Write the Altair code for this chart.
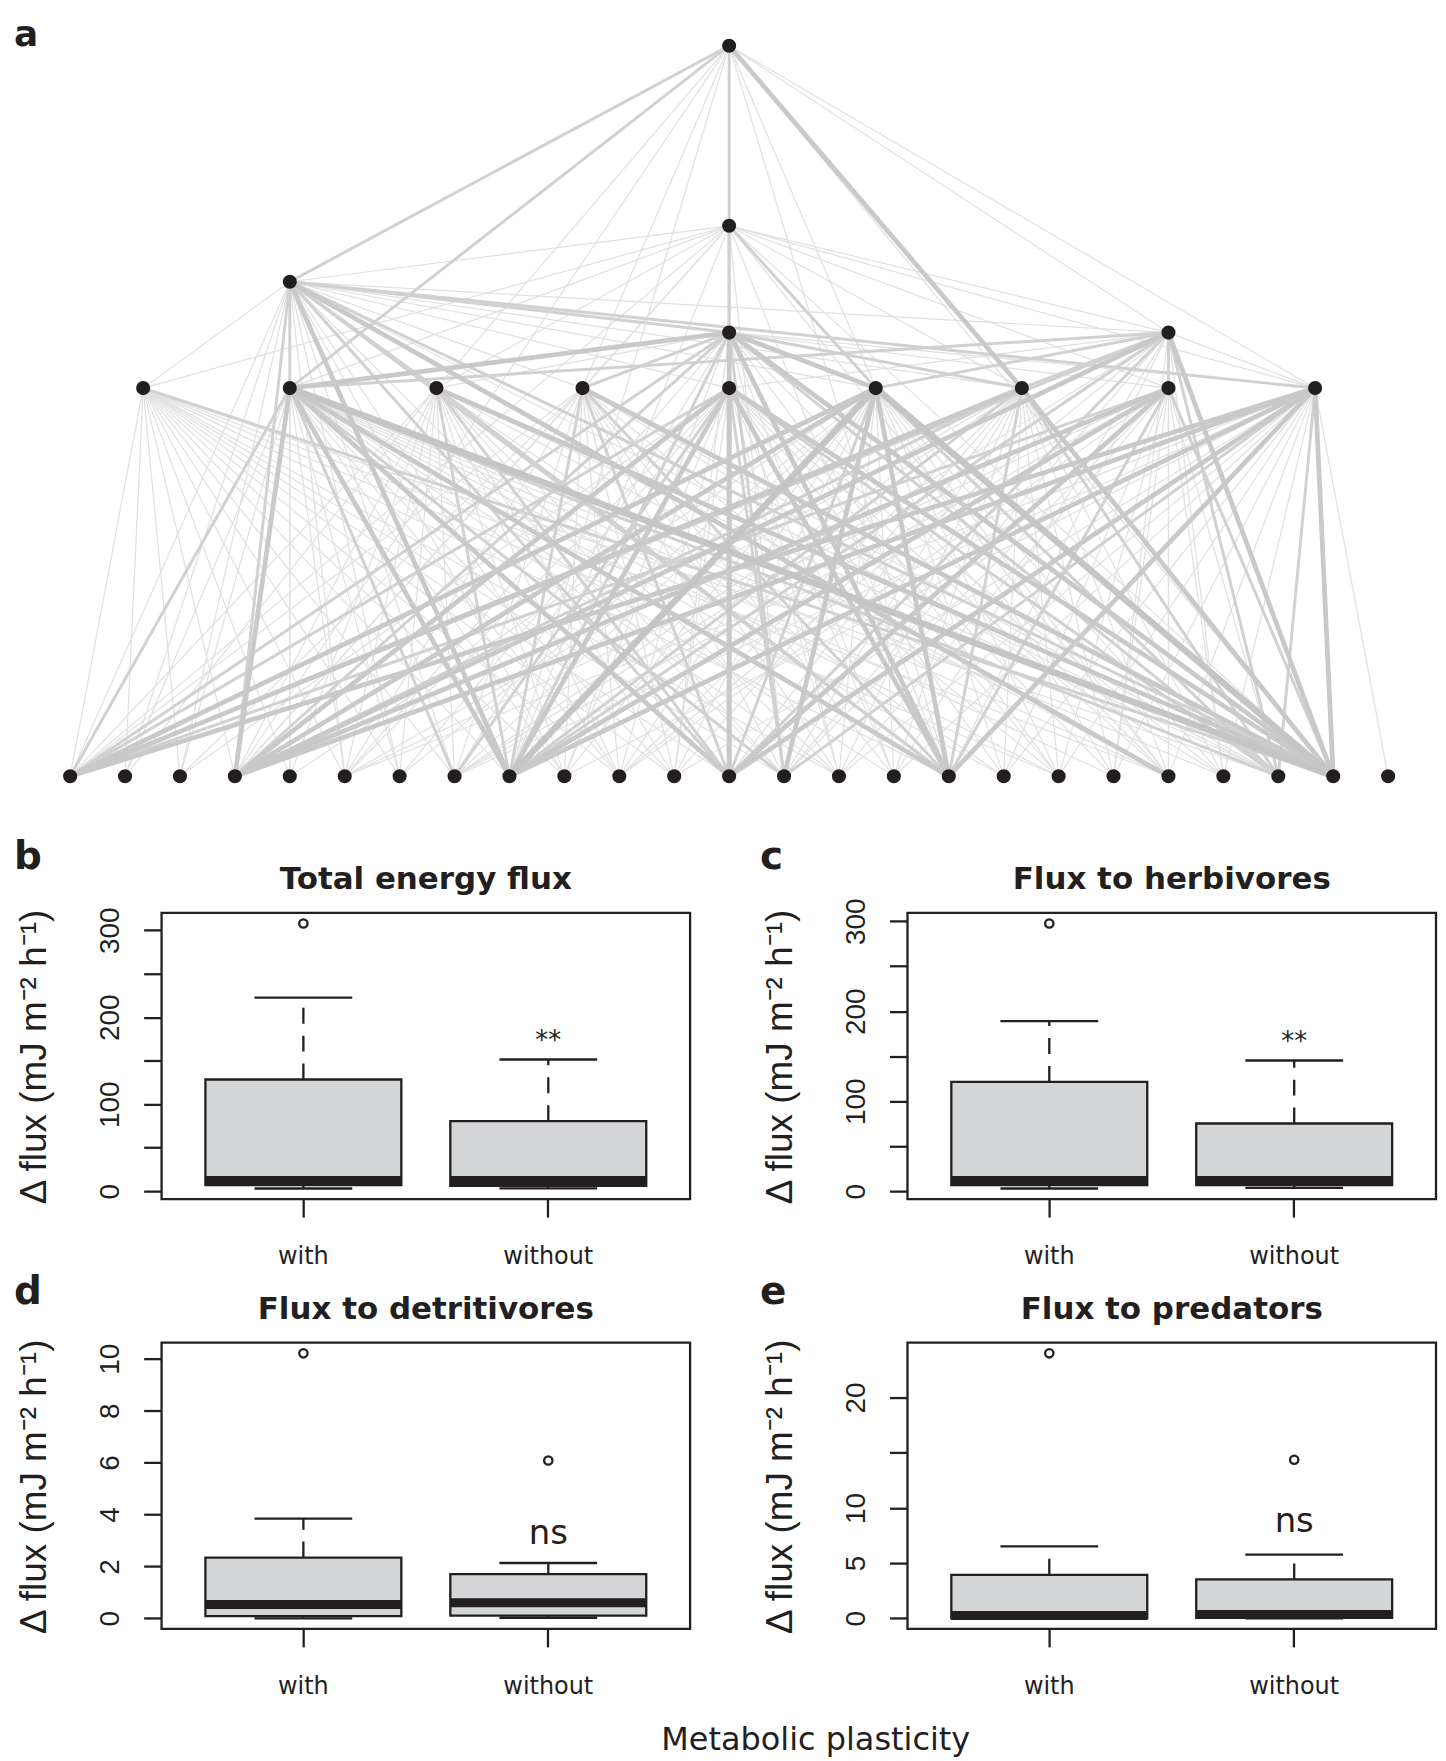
import json
import altair as alt
import pandas as pd

INK = "#231f20"

# ---------------- panel a: food web ----------------
basal_ids = ["B0", "B1", "B2", "B3", "B4", "B5", "B6", "B7", "B8", "B9", "B10", "B11", "B12",
             "B13", "B14", "B15", "B16", "B17", "B18", "B19", "B20", "B21", "B22", "B23", "B24"]
basal_pos = [0, 1, 2, 3, 4, 5, 6, 7, 8, 9, 10, 11, 12, 13, 14, 15, 16, 17, 18, 19, 20, 21, 22, 23, 24]
basal_level = [1.0] * 25

mid_ids = ["R0", "R1", "R2", "R3", "R4", "R5", "R6", "R7", "R8"]
mid_pos = [1.33, 4.0, 6.67, 9.33, 12.0, 14.67, 17.33, 20.0, 22.67]
mid_level = [2.0, 2.0, 2.0, 2.0, 2.0, 2.0, 2.0, 2.0, 2.0]

top_ids = ["M", "Rt", "L", "S", "T"]
top_pos = [12.0, 20.0, 4.0, 12.0, 12.0]
top_level = [2.143, 2.143, 2.274, 2.418, 2.882]

# consumer -> "resource:strength" (strength class 1 = weak ... 4 = strong)
links = {
    "T":  "S:2 L:2 R6:3 R8:1 Rt:1 R1:2 R2:1 R3:1 R4:1 R5:1 B12:1 B3:1 B8:1 B16:1 B23:1",
    "S":  "M:2 L:1 R0:1 R1:1 R2:1 R3:1 R4:2 R5:2 R6:1 R7:1 Rt:1 R8:1 B0:1 B3:1 B8:1 B12:1 "
          "B16:1 B23:1 B20:1 B13:1",
    "L":  "R1:2 M:2 Rt:1 R8:2 R0:1 R2:2 R3:1 R4:1 R5:1 R6:1 B0:1 B1:1 B2:1 B3:2 B4:1 B5:1 B6:1 "
          "B7:1 B8:3 B9:1 B10:1 B12:2 B13:1 B16:2 B20:3 B22:1 B23:2",
    "M":  "R1:3 R2:1 R3:2 R4:2 R5:3 R6:2 R7:1 R8:1 B0:2 B3:2 B5:1 B7:1 B8:2 B9:1 B11:1 B12:3 "
          "B13:2 B14:1 B15:1 B16:3 B18:1 B20:1 B22:2 B23:3",
    "Rt": "R1:2 R4:1 R5:2 R6:2 R7:2 R8:1 B0:2 B3:3 B7:1 B8:2 B10:1 B12:2 B13:1 B15:1 B16:1 "
          "B19:1 B20:1 B21:1 B22:2 B23:3",
    "R0": "B0:1 B1:1 B2:1 B3:1 B4:1 B5:1 B6:1 B7:1 B8:1 B9:1 B10:1 B11:1 B12:1 B13:1 B14:1 "
          "B16:1 B18:1 B20:1 B22:1 B23:2",
    "R1": "B0:2 B1:1 B2:1 B3:3 B4:1 B5:1 B6:1 B7:2 B8:3 B9:1 B10:1 B11:1 B12:3 B13:2 B14:1 "
          "B15:1 B16:3 B17:1 B18:1 B19:1 B20:1 B21:1 B22:2 B23:4",
    "R2": "B0:1 B1:1 B3:1 B4:1 B5:1 B6:1 B7:1 B8:2 B9:1 B10:1 B11:1 B12:2 B13:1 B14:1 B16:2 "
          "B17:1 B20:1 B22:1 B23:3",
    "R3": "B0:1 B2:1 B3:1 B5:1 B7:1 B8:2 B9:1 B10:1 B11:1 B12:2 B13:1 B14:1 B15:1 B16:2 "
          "B18:1 B21:1 B22:1 B23:3",
    "R4": "B0:2 B2:1 B3:3 B5:1 B6:1 B7:2 B8:3 B9:1 B10:1 B11:1 B12:3 B13:2 B14:1 B15:1 B16:3 "
          "B17:1 B18:1 B19:1 B20:1 B21:1 B22:2 B23:3",
    "R5": "B0:3 B3:3 B4:1 B6:1 B7:1 B8:4 B9:1 B10:1 B11:1 B12:2 B13:3 B14:1 B15:1 B16:3 B17:1 "
          "B18:1 B19:1 B20:1 B21:1 B22:2 B23:4",
    "R6": "B0:3 B3:2 B5:1 B7:1 B8:2 B10:1 B11:1 B12:1 B13:1 B14:1 B15:1 B16:2 B17:1 B18:1 "
          "B19:1 B20:1 B21:1 B22:2 B23:3",
    "R7": "B0:2 B3:3 B5:1 B7:1 B8:3 B10:1 B12:3 B13:1 B14:1 B16:2 B17:1 B18:1 B19:1 B20:1 "
          "B21:1 B22:1 B23:2",
    "R8": "B0:3 B3:3 B5:1 B7:1 B8:3 B9:1 B11:1 B12:3 B13:2 B14:1 B15:1 B16:3 B17:1 B18:1 "
          "B19:1 B20:1 B21:1 B22:2 B23:3 B24:1",
}

nodes = pd.DataFrame({
    "id": basal_ids + mid_ids + top_ids,
    "x": basal_pos + mid_pos + top_pos,
    "y": basal_level + mid_level + top_level,
})
pos = nodes.set_index("id")
rows = []
for cons, spec in links.items():
    for tok in spec.split():
        res, w = tok.split(":")
        rows.append({"x": pos.loc[cons, "x"], "y": pos.loc[cons, "y"],
                     "x2": pos.loc[res, "x"], "y2": pos.loc[res, "y"], "w": int(w)})
edges = pd.DataFrame(rows).sort_values("w", kind="stable").reset_index(drop=True)

# layout constants (pixels)
LEFT = 148    # room left of each panel's plot for letter / axis
PW = 530      # panel plot width
GAP = 66      # gap between panels
NET_W = PW + GAP + LEFT + PW

net_x = alt.Scale(domain=[1.6651, 24.799], nice=False, zero=False)
net_y = alt.Scale(domain=[0.9178, 2.9728], nice=False, zero=False)

edge_layer = alt.Chart(edges).mark_rule().encode(
    x=alt.X("x:Q", scale=net_x, axis=None),
    y=alt.Y("y:Q", scale=net_y, axis=None),
    x2="x2:Q",
    y2="y2:Q",
    color=alt.Color("w:O", scale=alt.Scale(domain=[1, 2, 3, 4],
                    range=["#e0e0e0", "#d1d1d2", "#c9c9ca", "#c4c5c6"]), legend=None),
    size=alt.Size("w:Q", scale=alt.Scale(domain=[1, 4], range=[1.2, 6.5]), legend=None),
)
node_layer = alt.Chart(nodes).mark_circle(size=200, color=INK, opacity=1).encode(
    x=alt.X("x:Q", scale=net_x, axis=None),
    y=alt.Y("y:Q", scale=net_y, axis=None),
)
a_label = alt.Chart(pd.DataFrame({"t": ["a"]})).mark_text(
    align="left", baseline="alphabetic", font="DejaVu Sans", fontSize=36,
    fontWeight="bold", color=INK
).encode(x=alt.value(-LEFT), y=alt.value(36), text="t:N")

network = alt.layer(edge_layer, node_layer, a_label).properties(
    width=NET_W, height=800, view=alt.ViewBackground(stroke="transparent", strokeWidth=0)
)

# ---------------- panels b-e: boxplots ----------------
groups = ["with", "without"]

b_lo, b_q1, b_med, b_q3, b_hi = [3.1, 3.3], [6.9, 6.2], [12.3, 12.3], [128.4, 80.5], [222.6, 151.4]
b_out_g, b_out_v = ["with"], [307.7]
b_ylim, b_ticks, b_labeled = [-9.1, 319.9], [0, 50, 100, 150, 200, 250, 300], [0, 100, 200, 300]

c_lo, c_q1, c_med, c_q3, c_hi = [3.0, 3.6], [6.7, 6.7], [11.9, 11.9], [121.5, 75.2], [188.9, 145.2]
c_out_g, c_out_v = ["with"], [297.4]
c_ylim, c_ticks, c_labeled = [-8.8, 309.2], [0, 50, 100, 150, 200, 250, 300], [0, 100, 200, 300]

d_lo, d_q1, d_med, d_q3, d_hi = [0.0, 0.02], [0.08, 0.1], [0.53, 0.6], [2.34, 1.70], [3.84, 2.13]
d_out_g, d_out_v = ["with", "without"], [10.21, 6.08]
d_ylim, d_ticks, d_labeled = [-0.41, 10.62], [0, 2, 4, 6, 8, 10], [0, 2, 4, 6, 8, 10]

e_lo, e_q1, e_med, e_q3, e_hi = [0.0, 0.0], [0.02, 0.05], [0.25, 0.35], [3.94, 3.52], [6.52, 5.76]
e_out_g, e_out_v = ["with", "without"], [24.0, 14.36]
e_ylim, e_ticks, e_labeled = [-0.96, 24.96], [0, 5, 10, 15, 20], [0, 5, 10, 20]

sig_text = ["**", "**", "ns", "ns"]
sig_y = [173, 166, 3.25, 8.7]

Y_TITLE = "\u0394 flux (mJ m\u207b\u00b2 h\u207b\u00b9)"


def panel(letter, title, lo, q1, med, q3, hi, out_g, out_v, sig, sy, ylim, ticks, labeled,
          letter_y, title_y):
    stats = pd.DataFrame({"group": groups, "lo": lo, "q1": q1, "med": med, "q3": q3, "hi": hi})
    outs = pd.DataFrame({"group": out_g, "v": out_v})
    sigdf = pd.DataFrame({"group": ["without"], "v": [sy], "t": [sig]})

    xsc = alt.Scale(domain=groups, paddingInner=0.2, paddingOuter=0.179)
    xax = alt.Axis(title=None, domain=False, tickSize=18, tickWidth=2.3, tickColor=INK,
                   labelAngle=0, labelFont="DejaVu Sans", labelFontSize=24, labelColor=INK,
                   labelPadding=28, labelBaseline="top")
    ysc = alt.Scale(domain=ylim, nice=False, zero=False)
    yax = alt.Axis(values=ticks, grid=False, domain=False, tickSize=18, tickWidth=2.3,
                   tickColor=INK,
                   labelExpr="indexof(%s, datum.value) >= 0 ? datum.label : ''" % json.dumps(labeled),
                   labelAngle=270, labelAlign="center", labelBaseline="middle",
                   labelPadding=33, labelFont="Liberation Sans", labelFontSize=28,
                   labelColor=INK, labelOverlap=False, labelFlush=False,
                   title=Y_TITLE, titleFont="Liberation Sans", titleFontSize=37,
                   titleFontWeight="normal", titleColor=INK, titleAngle=270,
                   titleX=-127, titleY=144, titleAlign="center", titleBaseline="middle")
    X = alt.X("group:N", scale=xsc, axis=xax)

    def Y(f):
        return alt.Y(f, scale=ysc, axis=yax)

    w_up = alt.Chart(stats).mark_rule(color=INK, strokeWidth=2.3, strokeDash=[16, 12]).encode(
        x=X, y=Y("q3:Q"), y2="hi:Q")
    w_dn = alt.Chart(stats).mark_rule(color=INK, strokeWidth=2.3, strokeDash=[16, 12]).encode(
        x=X, y=Y("q1:Q"), y2="lo:Q")
    box = alt.Chart(stats).mark_bar(fill="#d4d5d7", stroke=INK, strokeWidth=2.3).encode(
        x=X, y=Y("q1:Q"), y2="q3:Q")
    median = alt.Chart(stats).mark_tick(color=INK, thickness=9, size=197, opacity=1).encode(
        x=X, y=Y("med:Q"))
    st_hi = alt.Chart(stats).mark_tick(color=INK, thickness=2.3, size=98, opacity=1).encode(
        x=X, y=Y("hi:Q"))
    st_lo = alt.Chart(stats).mark_tick(color=INK, thickness=2.3, size=98, opacity=1).encode(
        x=X, y=Y("lo:Q"))
    pts = alt.Chart(outs).mark_point(shape="circle", filled=False, size=70, strokeWidth=2.3,
                                     color=INK, opacity=1).encode(x=X, y=Y("v:Q"))
    sigt = alt.Chart(sigdf).mark_text(font="DejaVu Sans", fontSize=26 if sig == "**" else 34,
                                      color=INK, baseline="middle", align="center").encode(
        x=X, y=Y("v:Q"), text="t:N")
    let_t = alt.Chart(pd.DataFrame({"t": [letter]})).mark_text(
        align="left", baseline="alphabetic", font="DejaVu Sans", fontSize=39,
        fontWeight="bold", color=INK).encode(x=alt.value(-LEFT), y=alt.value(letter_y), text="t:N")
    ttl_t = alt.Chart(pd.DataFrame({"t": [title]})).mark_text(
        align="center", baseline="alphabetic", font="DejaVu Sans", fontSize=31,
        fontWeight="bold", color=INK).encode(x=alt.value(PW / 2), y=alt.value(title_y), text="t:N")
    return alt.layer(w_up, w_dn, box, median, st_hi, st_lo, pts, sigt, let_t, ttl_t).properties(
        width=PW, height=287, view=alt.ViewBackground(stroke=INK, strokeWidth=2.3))


pb = panel("b", "Total energy flux", b_lo, b_q1, b_med, b_q3, b_hi, b_out_g, b_out_v,
           sig_text[0], sig_y[0], b_ylim, b_ticks, b_labeled, -44, -24)
pc = panel("c", "Flux to herbivores", c_lo, c_q1, c_med, c_q3, c_hi, c_out_g, c_out_v,
           sig_text[1], sig_y[1], c_ylim, c_ticks, c_labeled, -44, -24)
pd_ = panel("d", "Flux to detritivores", d_lo, d_q1, d_med, d_q3, d_hi, d_out_g, d_out_v,
            sig_text[2], sig_y[2], d_ylim, d_ticks, d_labeled, -39, -24)
pe = panel("e", "Flux to predators", e_lo, e_q1, e_med, e_q3, e_hi, e_out_g, e_out_v,
           sig_text[3], sig_y[3], e_ylim, e_ticks, e_labeled, -39, -24)

row1 = alt.hconcat(pb, pc, spacing=GAP)
row2 = alt.hconcat(pd_, pe, spacing=GAP)
lower = alt.vconcat(row1, row2, spacing=0)

chart = alt.vconcat(network, lower, spacing=28).properties(
    title=alt.TitleParams("Metabolic plasticity", orient="bottom", anchor="middle",
                          font="DejaVu Sans", fontSize=32, fontWeight="normal", color=INK,
                          offset=25, dx=91),
    padding={"left": 4, "top": 0, "right": 0, "bottom": 0},
).configure_view(strokeWidth=0)

chart.save("out.html", embed_options={"renderer": "svg", "actions": False})
